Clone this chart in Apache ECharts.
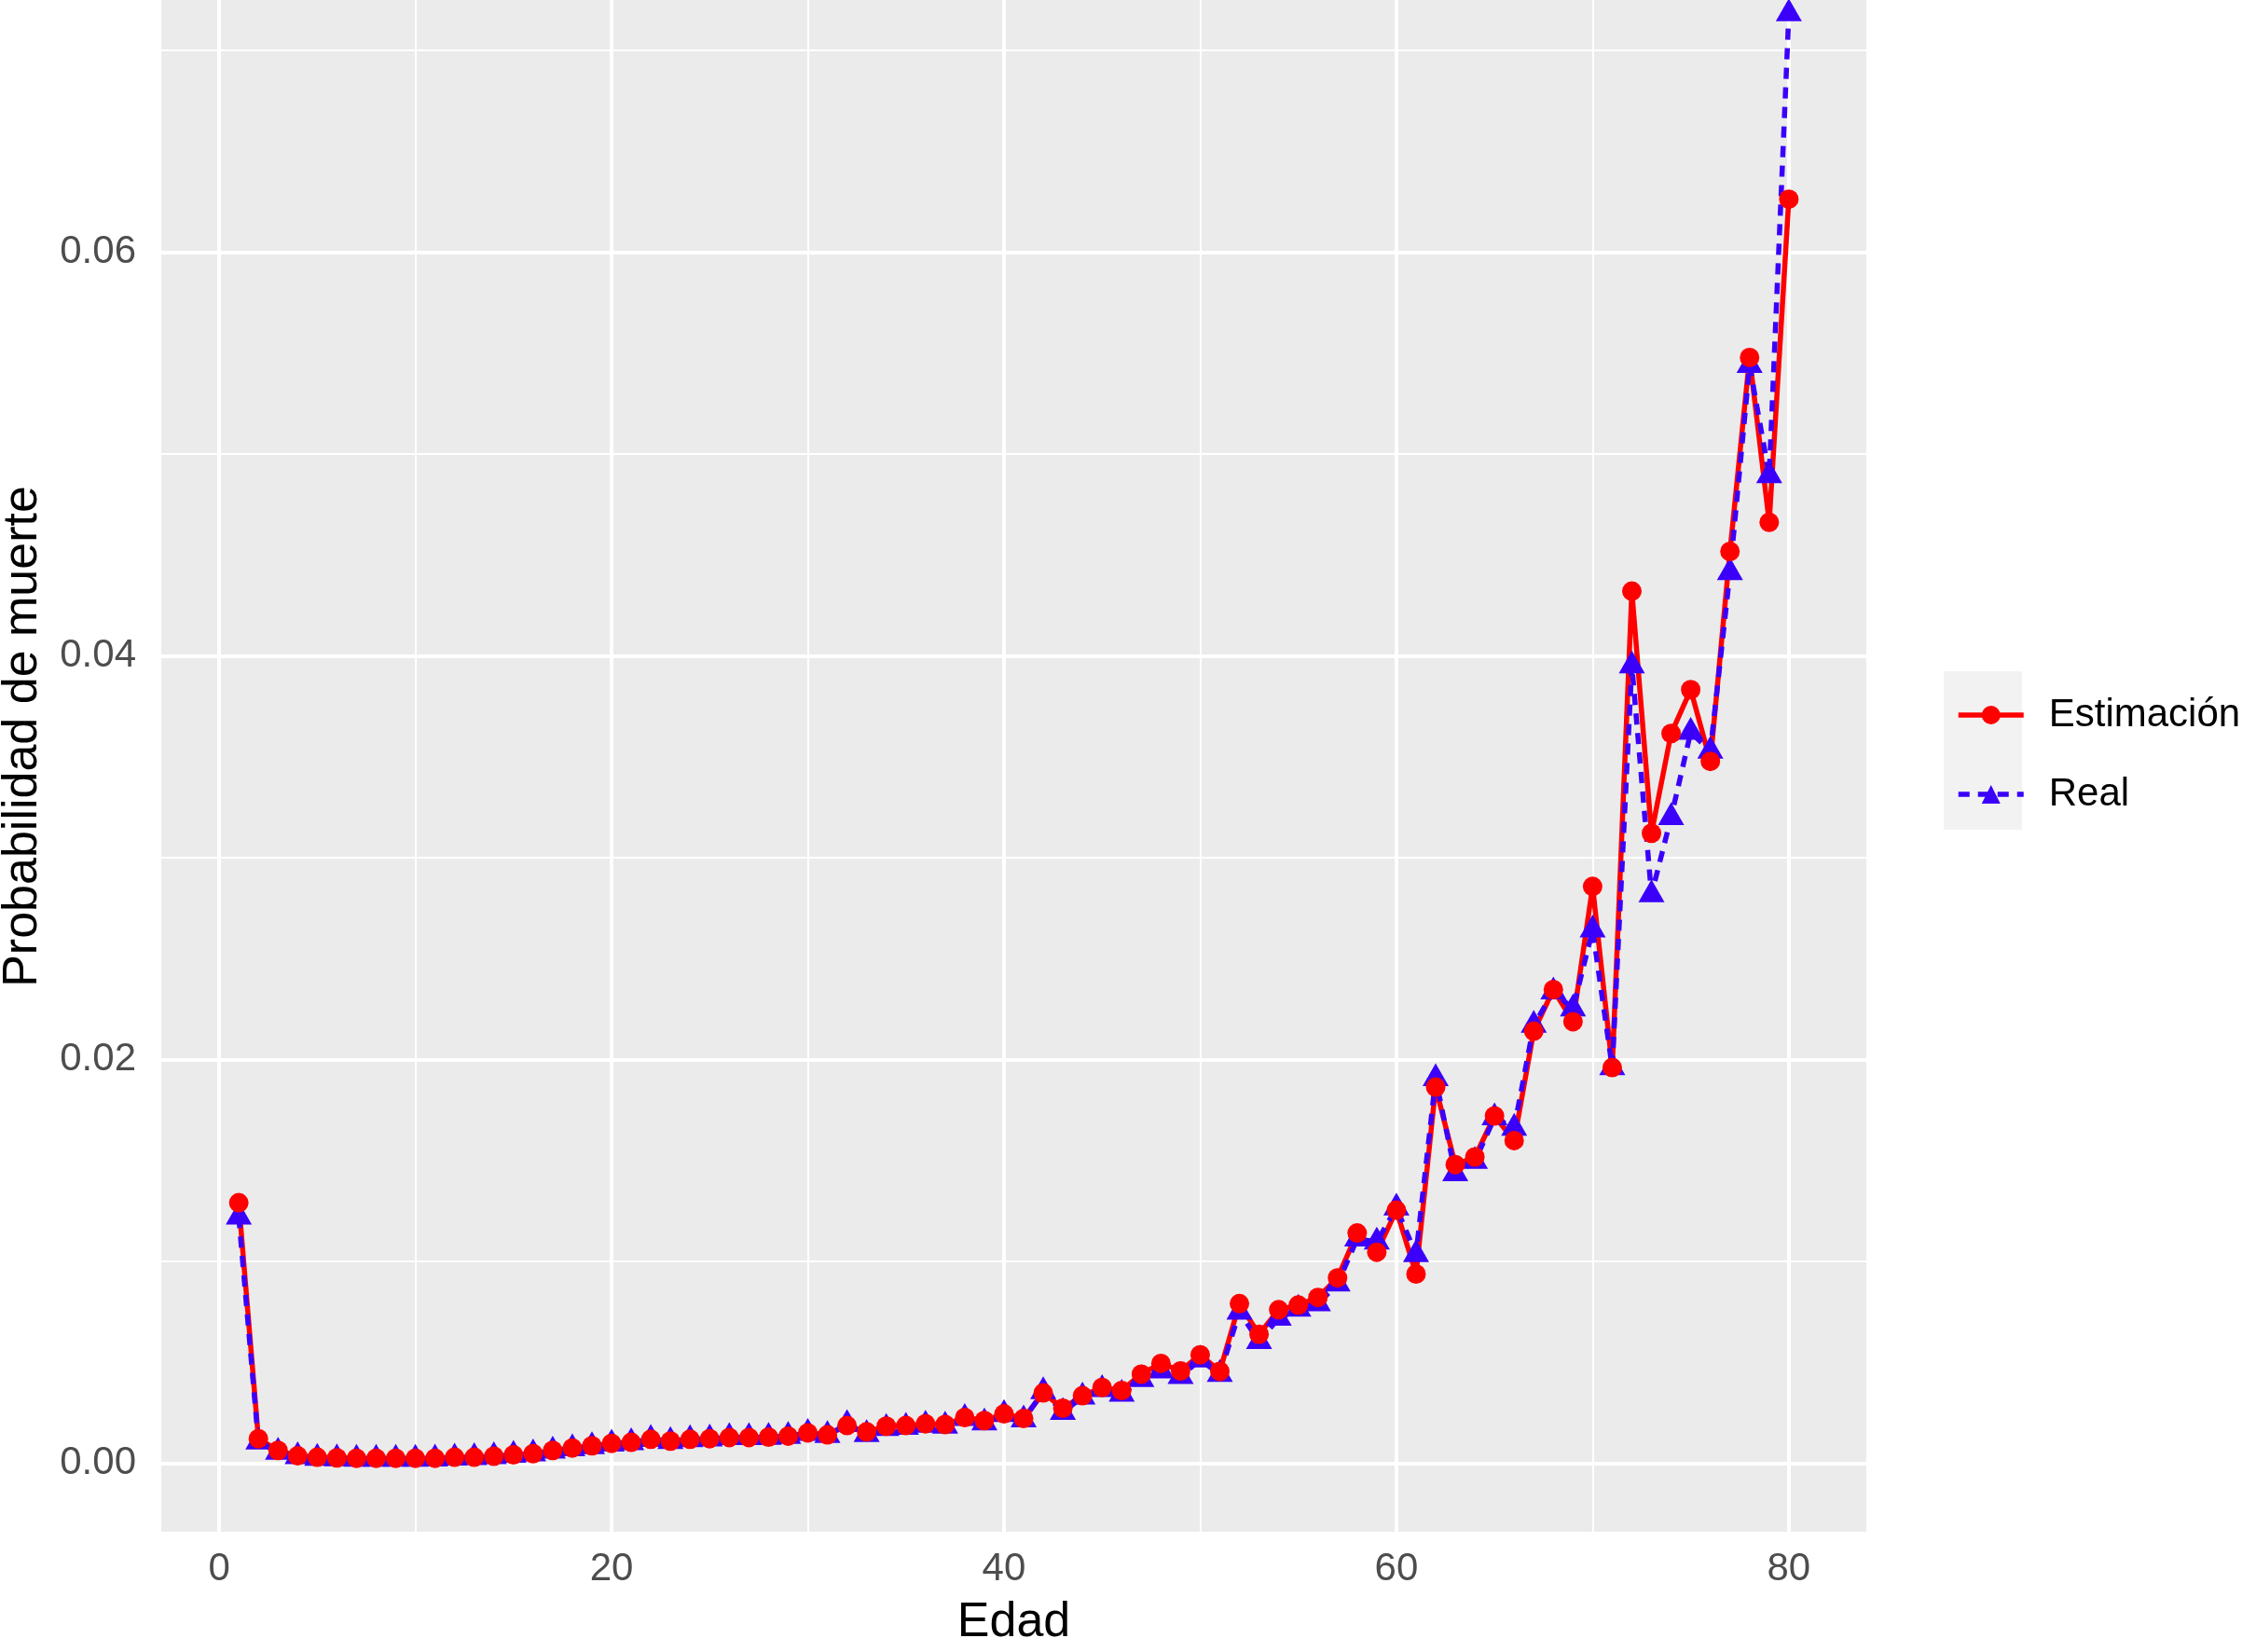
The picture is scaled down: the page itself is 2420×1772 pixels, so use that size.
<!DOCTYPE html>
<html>
<head>
<meta charset="utf-8">
<title>Probabilidad de muerte por edad</title>
<script src="https://cdn.jsdelivr.net/npm/echarts@6/dist/echarts.min.js"></script>
<style>
  html, body { margin: 0; padding: 0; background: #ffffff; }
  #chart { width: 2420px; height: 1772px; }
</style>
</head>
<body>
<div id="chart"></div>
<script>
// edades 1..80
const edad = [1, 2, 3, 4, 5, 6, 7, 8, 9, 10,
  11, 12, 13, 14, 15, 16, 17, 18, 19, 20,
  21, 22, 23, 24, 25, 26, 27, 28, 29, 30,
  31, 32, 33, 34, 35, 36, 37, 38, 39, 40,
  41, 42, 43, 44, 45, 46, 47, 48, 49, 50,
  51, 52, 53, 54, 55, 56, 57, 58, 59, 60,
  61, 62, 63, 64, 65, 66, 67, 68, 69, 70,
  71, 72, 73, 74, 75, 76, 77, 78, 79, 80];

const estimacion = [0.0129, 0.00121, 0.00063, 0.00036, 0.00029, 0.00026, 0.00024, 0.00024, 0.00024, 0.00024,
  0.00024, 0.00029, 0.00029, 0.00034, 0.00041, 0.00047, 0.00063, 0.00075, 0.00086, 0.00098,
  0.00103, 0.00118, 0.00109, 0.00118, 0.00121, 0.00127, 0.00127, 0.00129, 0.00134, 0.0015,
  0.0014, 0.00186, 0.00155, 0.00183, 0.00186, 0.00195, 0.00191, 0.00226, 0.00211, 0.00244,
  0.00221, 0.00348, 0.00272, 0.00334, 0.00375, 0.0036, 0.00441, 0.00494, 0.00457, 0.00537,
  0.00455, 0.0079, 0.00638, 0.0076, 0.00783, 0.00821, 0.00918, 0.0114, 0.01045, 0.01253,
  0.00937, 0.01863, 0.01479, 0.01517, 0.0172, 0.01598, 0.0214, 0.02346, 0.02187, 0.02857,
  0.0196, 0.0432, 0.03121, 0.03615, 0.03832, 0.03477, 0.04517, 0.05478, 0.04661, 0.06262];

const real = [0.0122, 0.00105, 0.00055, 0.00032, 0.00025, 0.00022, 0.0002, 0.0002, 0.0002, 0.0002,
  0.00021, 0.00026, 0.00028, 0.00032, 0.0004, 0.00046, 0.0006, 0.00072, 0.00082, 0.00095,
  0.00102, 0.00118, 0.00108, 0.00117, 0.0012, 0.00127, 0.00127, 0.00128, 0.00133, 0.00148,
  0.00138, 0.00192, 0.00142, 0.00172, 0.00178, 0.00188, 0.00184, 0.00222, 0.002, 0.00242,
  0.00215, 0.00355, 0.00252, 0.00328, 0.00365, 0.00342, 0.00415, 0.00458, 0.0043, 0.00512,
  0.0044, 0.00749, 0.00603, 0.00718, 0.00764, 0.0079, 0.00888, 0.01111, 0.01096, 0.01265,
  0.01034, 0.01905, 0.01434, 0.01496, 0.01711, 0.0166, 0.0217, 0.02335, 0.02251, 0.02642,
  0.0196, 0.03951, 0.02817, 0.03199, 0.03621, 0.03528, 0.04412, 0.05439, 0.04893, 0.07181];

const xTicks = [0, 20, 40, 60, 80];
const xMinor = [10, 30, 50, 70];
const yTicks = [0, 0.02, 0.04, 0.06];
const yMinor = [0.01, 0.03, 0.05, 0.07];

const FONT = "'Liberation Sans', Arial, Helvetica, sans-serif";
const ROJO = '#FF0000';
const AZUL = '#3A00FA';

const chart = echarts.init(document.getElementById('chart'));

// lineas de la rejilla (mayores y menores, estilo ggplot)
const gridLines = []
  .concat(yMinor.map(v => ({ yAxis: v, lineStyle: { width: 2 } })))
  .concat(xMinor.map(v => ({ xAxis: v, lineStyle: { width: 2 } })))
  .concat(yTicks.map(v => ({ yAxis: v, lineStyle: { width: 4 } })))
  .concat(xTicks.map(v => ({ xAxis: v, lineStyle: { width: 4 } })));

const option = {
  animation: false,
  backgroundColor: '#ffffff',
  grid: {
    left: 173,
    right: 418,
    top: -63,
    bottom: 129,
    outerBoundsMode: 'none',
    containLabel: false,
    show: true,
    backgroundColor: '#EBEBEB',
    borderWidth: 0
  },
  xAxis: {
    type: 'value',
    min: -2.95,
    max: 83.95,
    axisLine: { show: false },
    splitLine: { show: false },
    axisTick: {
      show: true,
      length: 13,
      customValues: xTicks,
      lineStyle: { color: '#333333', width: 4 }
    },
    axisLabel: {
      customValues: xTicks,
      fontSize: 42,
      fontFamily: FONT,
      color: '#4D4D4D',
      margin: 19
    },
    name: 'Edad',
    nameLocation: 'middle',
    nameGap: 72,
    nameTextStyle: { fontSize: 52, fontFamily: FONT, color: '#000000' }
  },
  yAxis: {
    type: 'value',
    min: -0.0034,
    max: 0.0754,
    axisLine: { show: false },
    splitLine: { show: false },
    axisTick: {
      show: true,
      length: 13,
      customValues: yTicks,
      lineStyle: { color: '#333333', width: 4 }
    },
    axisLabel: {
      customValues: yTicks,
      fontSize: 42,
      fontFamily: FONT,
      color: '#4D4D4D',
      margin: 27,
      formatter: v => v.toFixed(2)
    },
    name: 'Probabilidad de muerte',
    nameLocation: 'middle',
    nameGap: 122,
    nameTextStyle: { fontSize: 52, fontFamily: FONT, color: '#000000' }
  },
  legend: {
    data: ['Estimación', 'Real'],
    orient: 'vertical',
    left: 2093,
    top: 741,
    itemWidth: 70,
    itemHeight: 25,
    itemGap: 43,
    selectedMode: false,
    lineStyle: { width: 5.5 },
    textStyle: { fontSize: 42, fontFamily: FONT, color: '#000000', padding: [0, 0, 0, 22] }
  },
  graphic: [{
    type: 'rect',
    left: 2085,
    top: 720,
    shape: { width: 84, height: 170 },
    style: { fill: '#F2F2F2' },
    z: -10
  }],
  series: [
    {
      name: 'Estimación',
      type: 'line',
      data: edad.map((a, i) => [a, estimacion[i]]),
      showSymbol: false,
      symbol: 'circle',
      itemStyle: { color: ROJO },
      lineStyle: { color: ROJO, width: 5.5, join: 'round' },
      z: 2
    },
    {
      name: 'Real',
      type: 'line',
      data: edad.map((a, i) => [a, real[i]]),
      showSymbol: false,
      symbol: 'triangle',
      itemStyle: { color: AZUL },
      lineStyle: { color: AZUL, width: 5.5, type: [12, 9], join: 'round' },
      z: 3
    },
    {
      name: 'pts_real',
      type: 'scatter',
      data: edad.map((a, i) => [a, real[i]]),
      symbol: 'triangle',
      symbolSize: [28, 24.5],
      symbolOffset: [0, -4.1],
      itemStyle: { color: AZUL, opacity: 1 },
      z: 4
    },
    {
      name: 'pts_est',
      type: 'scatter',
      data: edad.map((a, i) => [a, estimacion[i]]),
      symbol: 'circle',
      symbolSize: 21,
      itemStyle: { color: ROJO, opacity: 1 },
      z: 5
    },
    {
      name: 'rejilla',
      type: 'line',
      data: [],
      silent: true,
      z: 1,
      markLine: {
        silent: true,
        z: 1,
        symbol: ['none', 'none'],
        label: { show: false },
        lineStyle: { color: '#FFFFFF', type: 'solid' },
        emphasis: { disabled: true },
        data: gridLines
      }
    }
  ]
};

chart.setOption(option);
</script>
</body>
</html>
